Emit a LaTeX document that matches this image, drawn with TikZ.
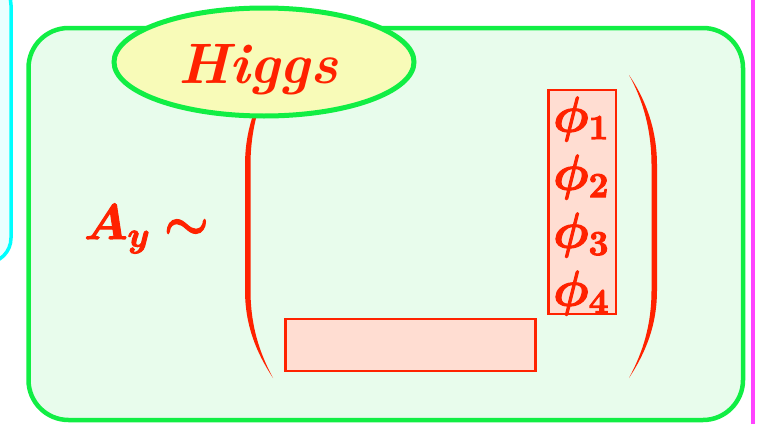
\RequirePackage{fix-cm}
\documentclass[tikz,border=0pt]{standalone}
\usepackage{bm}
\usetikzlibrary{shapes.geometric}
\definecolor{hred}{HTML}{FF2200}
\definecolor{hgreen}{HTML}{11EE44}
\definecolor{gfill}{HTML}{E8FCEC}
\definecolor{yfill}{HTML}{F8FBB8}
\definecolor{bfill}{HTML}{FFDDD2}
\definecolor{cyanline}{HTML}{00FFFF}
\definecolor{cyanfill}{HTML}{EAFFFF}
\definecolor{magline}{HTML}{FF44FF}
\newcommand{\bigmath}{\fontsize{50}{54}\selectfont}
\newcommand{\fakebold}[1]{\special{pdf:literal direct 2 Tr 1.1 w}#1\special{pdf:literal direct 0 Tr}}
\newcommand{\bphi}[1]{\fakebold{$\bm{\phi}_{\mathbf{#1}}$}}
\tikzset{
  redbox/.style={draw=hred, fill=bfill, line width=2.3pt},
  paren/.style={fill=hred, draw=none},
  phitext/.style={text=hred, inner sep=0pt, font=\bigmath},
}
\begin{document}
\begin{tikzpicture}[x=1pt,y=1pt]
\useasboundingbox (0,0) rectangle (757,-423);
\begin{scope}
\clip (0,0) rectangle (757,-423);
\draw[draw=cyanline, fill=cyanfill, line width=3.5pt, rounded corners=25pt] (-100,20) rectangle (11,-263);
\draw[magline, line width=4pt] (752.5,10) -- (752.5,-433);
\draw[draw=hgreen, fill=gfill, line width=4.5pt, rounded corners=40pt] (28.5,-28) rectangle (743,-420);
\end{scope}
\fill[paren] (273,-75) .. controls (256,-100) and (245,-130) .. (245,-165) -- (245,-290)
  .. controls (245,-325) and (256,-352) .. (273,-378)
  .. controls (259,-352) and (250.5,-325) .. (250.5,-290) -- (250.5,-165)
  .. controls (250.5,-130) and (259,-100) .. (273,-75) -- cycle;
\fill[paren] (629,-75) .. controls (646,-100) and (657,-130) .. (657,-165) -- (657,-290)
  .. controls (657,-325) and (646,-352) .. (629,-378)
  .. controls (643,-352) and (651.5,-325) .. (651.5,-290) -- (651.5,-165)
  .. controls (651.5,-130) and (643,-100) .. (629,-75) -- cycle;
\node[ellipse, draw=hgreen, fill=yfill, line width=5pt, minimum width=300pt, minimum height=108pt, inner sep=0pt] (higgs) at (264,-62) {};
\node[text=hred, font=\fontsize{57}{60}\selectfont\bfseries\itshape, anchor=base, inner sep=0pt] (higgstext) at (258,-83) {Higgs};
\node[phitext, anchor=base west] (ay) at (84,-239) {\fakebold{$\bm{A}_{\bm{y}} \mathrel{\bm{\sim}}$}};
\draw[redbox] (548.5,-90) rectangle (616,-314);
\draw[redbox] (285.5,-319) rectangle (535.5,-371);
\node[phitext] (p1) at (581,-119) {\bphi{1}};
\node[phitext] (p2) at (581,-177) {\bphi{2}};
\node[phitext] (p3) at (581,-235) {\bphi{3}};
\node[phitext] (p4) at (581,-293) {\bphi{4}};
\end{tikzpicture}
\end{document}
